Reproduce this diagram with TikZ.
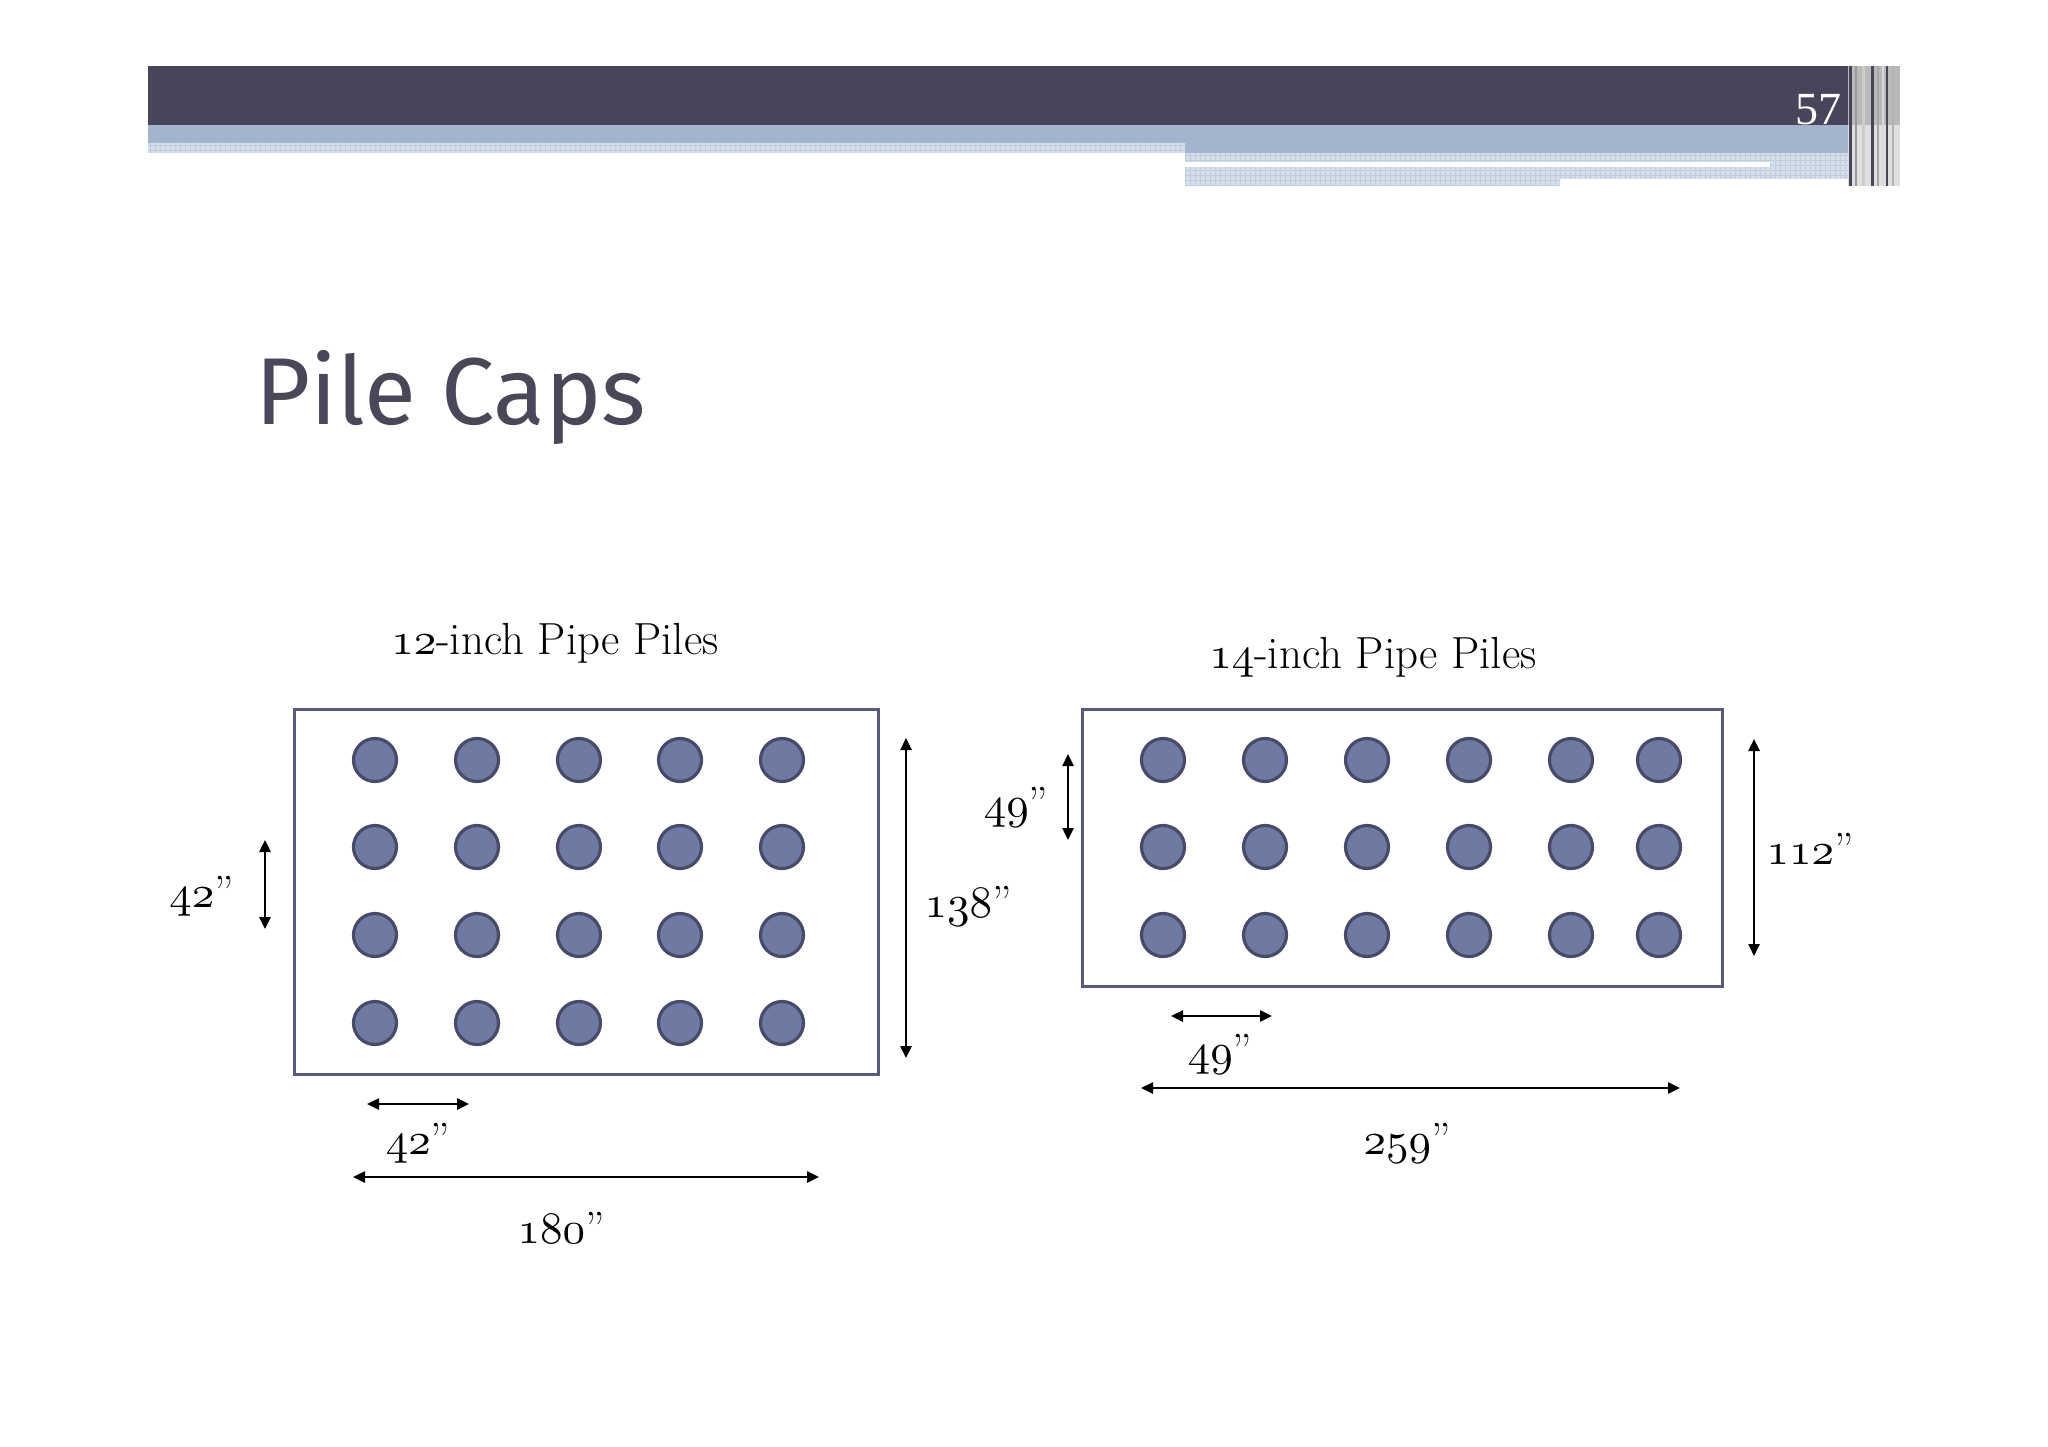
\documentclass[tikz,border=0pt]{standalone}
\usepackage{fontspec}
\usetikzlibrary{arrows.meta}
\newfontfamily\titlefont{Fira Sans}
\newfontfamily\pagefont{Liberation Serif}
\font\osfont=cmmi10 at 45pt
\newcommand\osn[1]{{\osfont #1}}
\definecolor{barDark}{HTML}{47455A}
\definecolor{barBlue}{HTML}{A3B5CD}
\definecolor{gridFill}{HTML}{D4DFEB}
\definecolor{gridLine}{HTML}{BFCDDD}
\definecolor{titleC}{HTML}{4A4858}
\definecolor{pileFill}{HTML}{6F7AA3}
\definecolor{pileEdge}{HTML}{474B69}
\definecolor{capEdge}{HTML}{585B7C}
\tikzset{
  pile/.style={circle, draw=pileEdge, fill=pileFill, line width=3.2pt, minimum size=43pt, inner sep=0pt},
  capbox/.style={draw=capEdge, line width=3pt},
  dimarrow/.style={{Triangle[length=12pt,width=11pt]}-{Triangle[length=12pt,width=11pt]}, line width=2.5pt, black},
  lbl/.style={font=\fontsize{45}{52}\selectfont, inner sep=0pt, text=black},
}
\begin{document}
\begin{tikzpicture}[x=1pt,y=-1pt]
\useasboundingbox[fill=white] (0,0) rectangle (2048,1447);
% ---------- header ----------
\fill[barDark] (148,66) rectangle (1850,125);
\fill[barBlue] (148,125) rectangle (1850,143);
\fill[barBlue] (1185,143) rectangle (1850,153);
\fill[gridFill] (148,143) rectangle (1185,153);
\fill[gridFill] (1185,153) rectangle (1850,179);
\fill[gridFill] (1185,179) rectangle (1560,186);
\begin{scope}
\clip (148,143) rectangle (1185,153) (1185,153) rectangle (1850,179) (1185,179) rectangle (1560,186);
\draw[gridLine, line width=0.6pt, step=5pt] (148,140) grid (1850,190);
\end{scope}
\fill[white] (1185,162) rectangle (1770,167);
% right textured stripes
\fill[gray!55] (1848,66) rectangle (1900,125);
\fill[gray!25] (1848,125) rectangle (1900,186);
\foreach \xx/\cc/\ww in {1850/barDark/3, 1856/gray!80/2, 1863/gray!40/3, 1872/barDark/3, 1878/gray!70/2, 1883/gray!30/2, 1887/barDark/2.5, 1893/gray!60/2}
  \draw[\cc, line width=\ww pt] (\xx,66) -- (\xx,186);
\node[anchor=base east, text=white, inner sep=0pt, font=\pagefont\fontsize{46}{50}\selectfont] (pagenum) at (1842,125) {57};
% ---------- title ----------
\node[anchor=base west, inner sep=0pt, text=titleC, font=\titlefont\fontsize{95}{110}\selectfont] (title) at (255,424) {Pile Caps};
% ---------- left cap ----------
\node[lbl] (ltitle) at (555,643) {\osn{12}-inch Pipe Piles};
\draw[capbox] (294,709) rectangle (878,1074);
\foreach \r/\yy in {1/760,2/847,3/935,4/1023}
  \foreach \c/\xx in {1/375,2/477,3/579,4/680,5/782}
    \node[pile] (L-\r-\c) at (\xx,\yy) {};
\coordinate (lva) at (265,840); \coordinate (lvb) at (265,929);
\draw[dimarrow] (lva) -- (lvb);
\node[lbl, anchor=east] (l42v) at (234,896) {\osn{42}”};
\coordinate (lra) at (906,738); \coordinate (lrb) at (906,1058);
\draw[dimarrow] (lra) -- (lrb);
\node[lbl] (l138) at (968,906) {\osn{138}”};
\coordinate (lsa) at (367,1104); \coordinate (lsb) at (469,1104);
\draw[dimarrow] (lsa) -- (lsb);
\node[lbl] (l42h) at (418,1143) {\osn{42}”};
\coordinate (lla) at (353,1177); \coordinate (llb) at (819,1177);
\draw[dimarrow] (lla) -- (llb);
\node[lbl] (l180) at (561,1228) {\osn{180}”};
% ---------- right cap ----------
\node[lbl] (rtitle) at (1373,657) {\osn{14}-inch Pipe Piles};
\draw[capbox] (1082,709) rectangle (1722,986);
\foreach \r/\yy in {1/760,2/847,3/935}
  \foreach \c/\xx in {1/1163,2/1265,3/1367,4/1469,5/1571,6/1659}
    \node[pile] (R-\r-\c) at (\xx,\yy) {};
\coordinate (rva) at (1068,754); \coordinate (rvb) at (1068,840);
\draw[dimarrow] (rva) -- (rvb);
\node[lbl] (r49v) at (1016,807) {\osn{49}”};
\coordinate (rra) at (1754,739); \coordinate (rrb) at (1754,956);
\draw[dimarrow] (rra) -- (rrb);
\node[lbl] (r112) at (1810,849) {\osn{112}”};
\coordinate (rsa) at (1171,1016); \coordinate (rsb) at (1272,1016);
\draw[dimarrow] (rsa) -- (rsb);
\node[lbl] (r49h) at (1220,1054) {\osn{49}”};
\coordinate (rla) at (1141,1088); \coordinate (rlb) at (1680,1088);
\draw[dimarrow] (rla) -- (rlb);
\node[lbl] (r259) at (1407,1143) {\osn{259}”};
\end{tikzpicture}
\end{document}
